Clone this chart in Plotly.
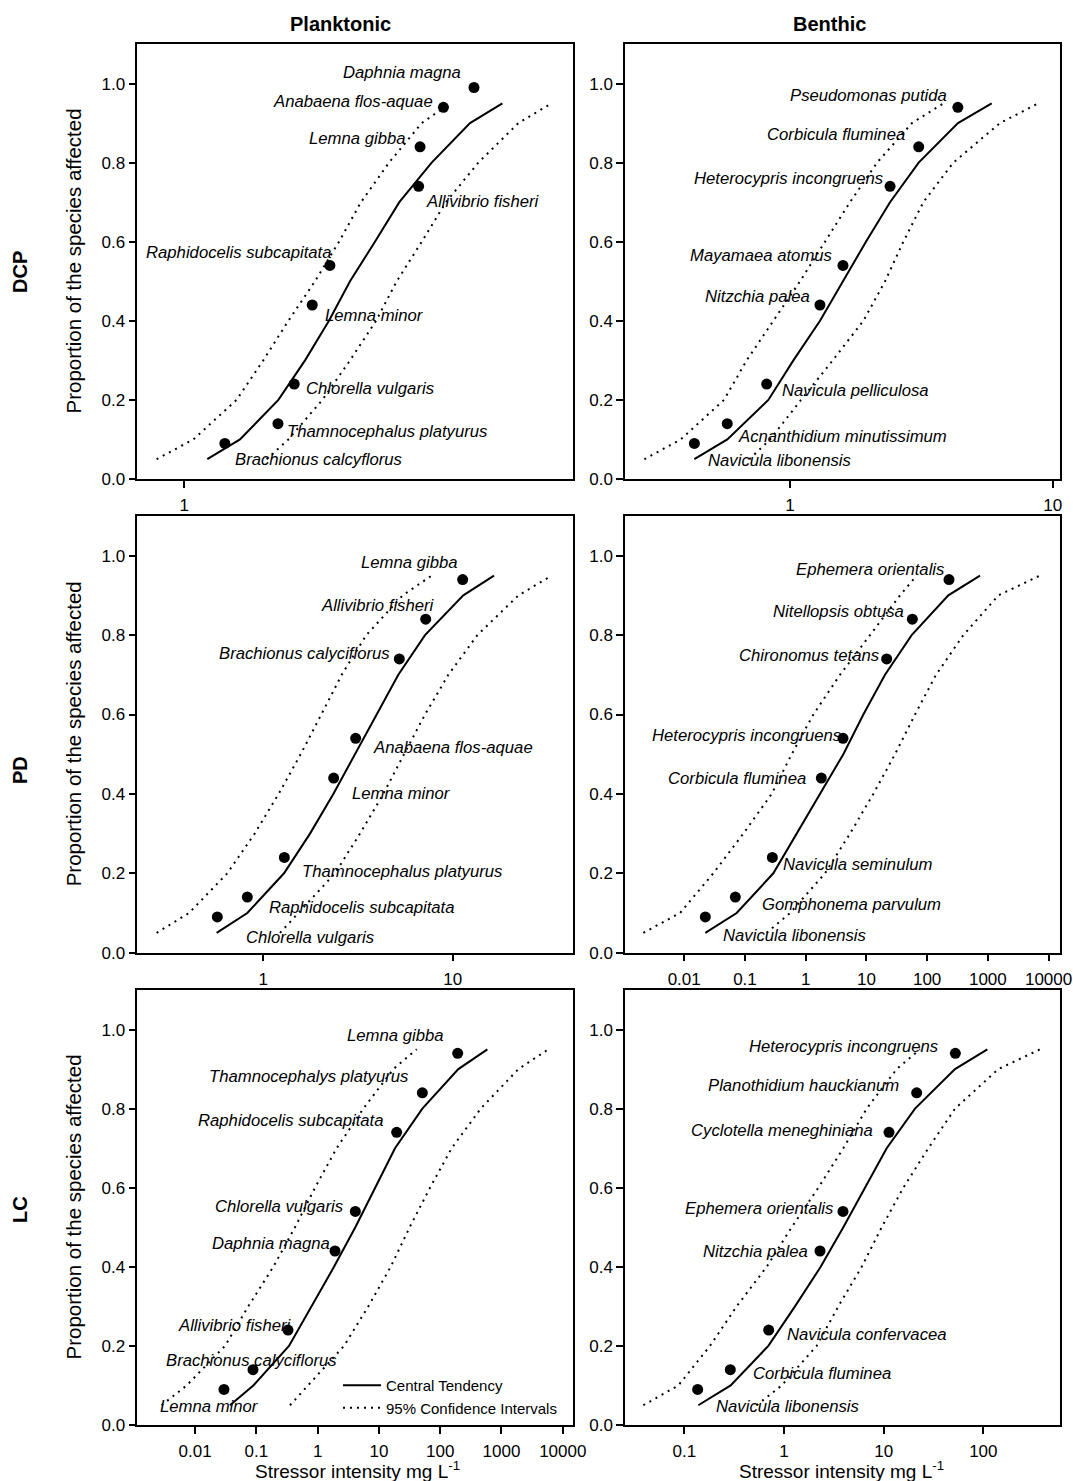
import math
import plotly.graph_objects as go

# ---------------- data ----------------
FRACS = [0.05, 0.1, 0.2, 0.3, 0.4, 0.5, 0.6, 0.7, 0.8, 0.9, 0.95]
POINT_Y8 = [0.09, 0.14, 0.24, 0.44, 0.54, 0.74, 0.84, 0.94]
POINT_Y9 = [0.09, 0.14, 0.24, 0.44, 0.54, 0.74, 0.84, 0.94, 0.99]

TICK_VALS = [0.001, 0.01, 0.1, 1, 10, 100, 1000, 10000]
TICK_TEXT = ["0.001", "0.01", "0.1", "1", "10", "100", "1000", "10000"]
Y_TICK_VALS = [0.0, 0.2, 0.4, 0.6, 0.8, 1.0]
Y_TICK_TEXT = ["0.0", "0.2", "0.4", "0.6", "0.8", "1.0"]

# DCP - Planktonic
dcp_p_species = ["Brachionus calcyflorus", "Thamnocephalus platyurus", "Chlorella vulgaris",
                 "Lemna minor", "Raphidocelis subcapitata", "Allivibrio fisheri",
                 "Lemna gibba", "Anabaena flos-aquae", "Daphnia magna"]
dcp_p_x = [1.256, 1.692, 1.854, 2.051, 2.265, 3.728, 3.758, 4.285, 5.087]
dcp_p_y = POINT_Y9
dcp_p_central = [1.138, 1.367, 1.696, 1.970, 2.253, 2.536, 2.917, 3.345, 4.011, 4.975, 5.966]
dcp_p_lower = [0.856, 1.052, 1.341, 1.558, 1.794, 2.083, 2.384, 2.697, 3.157, 3.793, 4.446]
dcp_p_upper = [1.588, 1.794, 2.171, 2.536, 2.935, 3.296, 3.793, 4.347, 5.212, 6.526, 7.868]

# DCP - Benthic
dcp_b_species = ["Navicula libonensis", "Acnanthidium minutissimum", "Navicula pelliculosa",
                 "Nitzchia palea", "Mayamaea atomus", "Heterocypris incongruens",
                 "Corbicula fluminea", "Pseudomonas putida"]
dcp_b_x = [0.4325, 0.5768, 0.8150, 1.300, 1.591, 2.404, 3.090, 4.355]
dcp_b_y = POINT_Y8
dcp_b_central = [0.4323, 0.5772, 0.8271, 1.030, 1.301, 1.592, 1.946, 2.403, 3.089, 4.361, 5.859]
dcp_b_lower = [0.2789, 0.3836, 0.5607, 0.6839, 0.8640, 1.092, 1.359, 1.692, 2.145, 2.913, 3.836]
dcp_b_upper = [0.7000, 0.8400, 1.101, 1.454, 1.902, 2.301, 2.701, 3.218, 4.185, 6.303, 8.818]

# PD - Planktonic
pd_p_species = ["Chlorella vulgaris", "Raphidocelis subcapitata", "Thamnocephalus platyurus",
                "Lemna minor", "Anabaena flos-aquae", "Brachionus calyciflorus",
                "Allivibrio fisheri", "Lemna gibba"]
pd_p_x = [0.5715, 0.8232, 1.291, 2.352, 3.074, 5.226, 7.202, 11.29]
pd_p_y = POINT_Y8
pd_p_central = [0.5669, 0.8232, 1.286, 1.764, 2.343, 3.062, 3.968, 5.164, 7.144, 11.38, 16.53]
pd_p_lower = [0.2733, 0.4050, 0.6455, 0.9000, 1.205, 1.575, 2.024, 2.593, 3.499, 5.443, 7.745]
pd_p_upper = [1.225, 1.531, 2.390, 3.240, 4.303, 5.534, 7.144, 9.487, 13.50, 22.23, 33.33]

# PD - Benthic
pd_b_species = ["Navicula libonensis", "Gomphonema parvulum", "Navicula seminulum",
                "Corbicula fluminea", "Heterocypris incongruens", "Chironomus tetans",
                "Nitellopsis obtusa", "Ephemera orientalis"]
pd_b_x = [0.02228, 0.06950, 0.2826, 1.811, 4.118, 21.56, 57.06, 229.1]
pd_b_y = POINT_Y8
pd_b_central = [0.02228, 0.07311, 0.2935, 0.7109, 1.766, 4.171, 8.903, 20.25, 55.64, 223.4, 742.1]
pd_b_lower = [0.002123, 0.008527, 0.03018, 0.09412, 0.2756, 0.5883, 1.337, 3.675, 11.46, 35.74, 67.26]
pd_b_upper = [0.2279, 0.5521, 2.081, 5.370, 13.01, 29.57, 63.13, 140.0, 394.7, 1487, 7218]

# LC - Planktonic
lc_p_species = ["Lemna minor", "Brachionus calyciflorus", "Allivibrio fisheri",
                "Daphnia magna", "Chlorella vulgaris", "Raphidocelis subcapitata",
                "Thamnocephalys platyurus", "Lemna gibba"]
lc_p_x = [0.02959, 0.08801, 0.3279, 1.918, 4.119, 19.47, 51.10, 192.8]
lc_p_y = POINT_Y8
lc_p_central = [0.03708, 0.08913, 0.3404, 0.7984, 1.848, 4.119, 8.627, 18.29, 51.10, 197.7, 588.0]
lc_p_lower = [0.002843, 0.007273, 0.03073, 0.07382, 0.1890, 0.4266, 0.9047, 2.042, 5.565, 17.18, 41.29]
lc_p_upper = [0.3535, 0.6957, 2.690, 6.714, 15.54, 31.74, 68.16, 153.9, 457.7, 1885, 5821]

# LC - Benthic
lc_b_species = ["Navicula libonensis", "Corbicula fluminea", "Navicula confervacea",
                "Nitzchia palea", "Ephemera orientalis", "Cyclotella meneghiniana",
                "Planothidium hauckianum", "Heterocypris incongruens"]
lc_b_x = [0.1361, 0.2893, 0.7018, 2.297, 3.908, 11.31, 21.43, 52.38]
lc_b_y = POINT_Y8
lc_b_central = [0.1381, 0.2916, 0.6965, 1.289, 2.333, 3.938, 6.496, 10.72, 20.63, 51.97, 109.7]
lc_b_lower = [0.03878, 0.08707, 0.1809, 0.3350, 0.6702, 1.194, 2.211, 3.938, 6.750, 13.50, 23.14]
lc_b_upper = [0.5319, 0.9475, 2.127, 3.510, 6.016, 9.548, 15.75, 28.07, 51.97, 141.4, 370.4]

# ---------------- layout / styles ----------------
W, H = 1073, 1481
FONT = "Arial, Liberation Sans, sans-serif"

def px_x(p):
    return p / W

def px_y(p):
    return 1 - p / H

COL_DOM = [(137.3, 572.7), (625.0, 1060.0)]
ROW_DOM = [(44.0, 479.0), (516.0, 952.7), (990.0, 1425.0)]

# label placement styles: (xanchor, xshift px, yshift px)
lab_A = [("left", 8, -16), ("left", 7, -8), ("left", 10, -4), ("left", 11, -10),
         ("right", 4, 13), ("left", 5, -15), ("right", -12, 8), ("right", -8, 6), ("right", -11, 15)]
lab_B = [("left", 12, -17), ("left", 9, -13), ("left", 13, -6), ("right", -8, 9),
         ("right", -9, 10), ("right", -5, 8), ("right", -12, 12), ("right", -9, 12)]
lab_C = [("left", 27, -21), ("left", 20, -10), ("left", 16, -14), ("left", 16, -15),
         ("left", 15, -9), ("right", -7, 5), ("right", 11, 14), ("right", -3, 17)]
lab_D = [("left", 16, -19), ("left", 25, -7), ("left", 9, -7), ("right", -13, 0),
         ("right", 0, 3), ("right", -6, 3), ("right", -6, 8), ("right", -3, 10)]
lab_E = [("left", -66, -17), ("center", -1, 9), ("right", 6, 5), ("right", -3, 8),
         ("right", -10, 5), ("right", -11, 12), ("right", -12, 16), ("right", -12, 18)]
lab_F = [("left", 16, -17), ("left", 21, -4), ("left", 16, -4), ("right", -10, 0),
         ("right", -8, 3), ("right", -14, 2), ("right", -16, 7), ("right", -15, 7)]

panels = [
    dict(row=0, col=0, rng=(-0.1146, 0.9472), sp=dcp_p_species, x=dcp_p_x, y=dcp_p_y,
         c=dcp_p_central, lo=dcp_p_lower, hi=dcp_p_upper, lab=lab_A),
    dict(row=0, col=1, rng=(-0.6282, 1.0279), sp=dcp_b_species, x=dcp_b_x, y=dcp_b_y,
         c=dcp_b_central, lo=dcp_b_lower, hi=dcp_b_upper, lab=lab_B),
    dict(row=1, col=0, rng=(-0.6655, 1.6338), sp=pd_p_species, x=pd_p_x, y=pd_p_y,
         c=pd_p_central, lo=pd_p_lower, hi=pd_p_upper, lab=lab_C),
    dict(row=1, col=1, rng=(-2.9748, 4.1877), sp=pd_b_species, x=pd_b_x, y=pd_b_y,
         c=pd_b_central, lo=pd_b_lower, hi=pd_b_upper, lab=lab_D),
    dict(row=2, col=0, rng=(-2.9434, 4.1621), sp=lc_p_species, x=lc_p_x, y=lc_p_y,
         c=lc_p_central, lo=lc_p_lower, hi=lc_p_upper, lab=lab_E),
    dict(row=2, col=1, rng=(-1.5953, 2.7692), sp=lc_b_species, x=lc_b_x, y=lc_b_y,
         c=lc_b_central, lo=lc_b_lower, hi=lc_b_upper, lab=lab_F),
]

fig = go.Figure()
annotations = []
DOT_DASH = "2px,5px"

for i, p in enumerate(panels):
    n = i + 1
    xa = "x" if n == 1 else f"x{n}"
    ya = "y" if n == 1 else f"y{n}"
    legend_panel = (p["row"] == 2 and p["col"] == 0)

    fig.add_trace(go.Scatter(x=p["c"], y=FRACS, mode="lines", xaxis=xa, yaxis=ya,
                             line=dict(color="black", width=2),
                             name="Central Tendency", showlegend=legend_panel))
    fig.add_trace(go.Scatter(x=p["lo"], y=FRACS, mode="lines", xaxis=xa, yaxis=ya,
                             line=dict(color="black", width=2, dash=DOT_DASH),
                             name="95% Confidence Intervals", showlegend=legend_panel))
    fig.add_trace(go.Scatter(x=p["hi"], y=FRACS, mode="lines", xaxis=xa, yaxis=ya,
                             line=dict(color="black", width=2, dash=DOT_DASH),
                             showlegend=False))
    fig.add_trace(go.Scatter(x=p["x"], y=p["y"], mode="markers", xaxis=xa, yaxis=ya,
                             marker=dict(color="black", size=11), showlegend=False))

    # only keep decade ticks that fall inside this panel's range
    lo_r, hi_r = p["rng"]
    tv, tt = [], []
    for v, t in zip(TICK_VALS, TICK_TEXT):
        if lo_r <= math.log10(v) <= hi_r:
            tv.append(v)
            tt.append(t)

    x0, x1 = COL_DOM[p["col"]]
    y0, y1 = ROW_DOM[p["row"]]
    axis_common = dict(showline=True, linecolor="black", linewidth=1.5, mirror=True,
                       ticks="outside", ticklen=7, tickwidth=1.5, tickcolor="black",
                       showgrid=False, zeroline=False,
                       tickfont=dict(family=FONT, size=17, color="black"))
    fig.layout[("xaxis" if n == 1 else f"xaxis{n}")] = dict(
        type="log", range=list(p["rng"]), domain=[px_x(x0), px_x(x1)],
        anchor=ya, tickvals=tv, ticktext=tt, ticklabelstandoff=3,
        **axis_common)
    fig.layout[("yaxis" if n == 1 else f"yaxis{n}")] = dict(
        range=[0, 1.1], domain=[px_y(y1), px_y(y0)], anchor=xa,
        tickvals=Y_TICK_VALS, ticktext=Y_TICK_TEXT, **axis_common)

    for name, xv, yv, (anc, dx, dy) in zip(p["sp"], p["x"], p["y"], p["lab"]):
        annotations.append(dict(
            x=math.log10(xv), y=yv, xref=xa, yref=ya, text=name, showarrow=False,
            xanchor=anc, yanchor="middle", xshift=dx, yshift=dy,
            font=dict(family=FONT, size=16.7, color="black", style="italic")))

# column and row titles
for txt, cx in [("Planktonic", 340), ("Benthic", 829)]:
    annotations.append(dict(x=px_x(cx), y=px_y(24), xref="paper", yref="paper",
                            text=f"<b>{txt}</b>", showarrow=False, xanchor="center",
                            yanchor="middle", font=dict(family=FONT, size=20, color="black")))
for txt, cy in [("DCP", 272), ("PD", 770), ("LC", 1210)]:
    annotations.append(dict(x=px_x(20), y=px_y(cy), xref="paper", yref="paper",
                            text=f"<b>{txt}</b>", showarrow=False, textangle=-90,
                            xanchor="center", yanchor="middle",
                            font=dict(family=FONT, size=20, color="black")))
for y0, y1 in ROW_DOM:
    annotations.append(dict(x=px_x(73), y=px_y((y0 + y1) / 2), xref="paper", yref="paper",
                            text="Proportion of the species affected", showarrow=False,
                            textangle=-90, xanchor="center", yanchor="middle",
                            font=dict(family=FONT, size=20.5, color="black")))
for cx in [357, 841]:
    annotations.append(dict(x=px_x(cx), y=px_y(1470), xref="paper", yref="paper",
                            text="Stressor intensity mg L<sup>-1</sup>", showarrow=False,
                            xanchor="center", yanchor="middle",
                            font=dict(family=FONT, size=19, color="black")))

fig.update_layout(
    autosize=True, margin=dict(l=0, r=0, t=0, b=0, autoexpand=False),
    paper_bgcolor="white", plot_bgcolor="white",
    annotations=annotations,
    legend=dict(x=px_x(338), y=px_y(1369), xanchor="left", yanchor="top",
                bgcolor="rgba(0,0,0,0)", borderwidth=0, tracegroupgap=0,
                itemwidth=38,
                font=dict(family=FONT, size=15, color="black")),
)

fig.write_html("out.html",
               default_width="100vw", default_height="100vh",
               config={"displayModeBar": False, "responsive": True},
               post_script="document.documentElement.style.margin='0px';"
                           "document.body.style.margin='0px';"
                           "document.documentElement.style.overflow='hidden';"
                           "document.body.style.overflow='hidden';")
